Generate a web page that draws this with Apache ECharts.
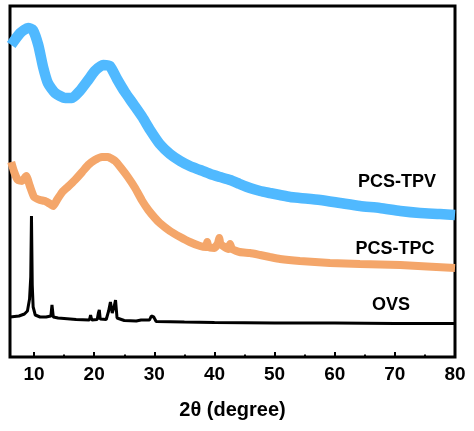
<!DOCTYPE html>
<html>
<head>
<meta charset="utf-8">
<script src="https://cdn.jsdelivr.net/npm/echarts@6/dist/echarts.min.js"></script>
<style>html,body{margin:0;padding:0;background:#fff}#c{width:474px;height:431px}</style>
</head>
<body>
<div id="c"></div>
<script>
// 2θ positions and relative intensities (arbitrary units)
const tpvX = [6.2, 7.7, 9.0, 9.8, 10.7, 11.5, 12.3, 13.5, 15.2, 16.3, 17.6, 19.0, 20.1, 21.5, 22.6, 23.8, 25.1, 26.5, 28.0, 29.3, 30.9, 32.6, 34.3, 35.9, 37.6, 39.3, 40.9, 42.6, 44.2, 45.9, 47.6, 49.2, 50.9, 52.6, 54.2, 57.6, 60.9, 64.2, 67.5, 70.9, 74.2, 77.5, 80];
const tpvY = [312, 324, 329, 327, 312, 290, 274, 264, 259, 259, 266, 277, 286, 292, 291, 278, 265, 253, 240, 227, 213, 203, 196, 191, 187, 183, 180, 177, 173, 169, 166, 164, 162, 160, 159, 157, 154, 151, 149, 146, 144, 143, 142];

const tpcX = [6.2, 6.7, 7.3, 8.0, 8.7, 9.3, 10.0, 11.0, 11.8, 12.7, 13.2, 13.8, 14.7, 15.6, 16.8, 18.0, 19.0, 20.1, 21.3, 22.3, 23.5, 24.6, 25.6, 26.8, 28.0, 29.0, 30.1, 30.9, 32.6, 34.3, 35.9, 37.6, 38.6, 38.8, 39.0, 40.0, 40.6, 40.8, 41.0, 42.3, 42.6, 42.9, 44.2, 45.9, 47.6, 49.2, 50.9, 54.2, 59.2, 64.2, 70.9, 80];
const tpcY = [195, 185, 177, 176, 181, 171, 160, 157, 156, 153, 151, 157, 165, 170, 177, 185, 192, 197, 200, 200, 196, 188, 180, 169, 156, 147, 139, 134, 126, 120, 115, 111, 110, 115, 110, 109, 114, 119, 113, 108, 113, 108, 105, 104, 102, 100, 98, 96, 94, 93, 92, 89];

const ovsX = [6.0, 7.5, 8.4, 8.9, 9.25, 9.45, 9.57, 9.7, 9.85, 10.2, 11.0, 12.0, 12.8, 12.98, 13.2, 14.0, 15.0, 17.0, 19.2, 19.4, 19.6, 20.5, 20.7, 20.85, 21.0, 22.0, 22.4, 22.7, 23.0, 23.3, 23.55, 23.8, 25.0, 27.0, 27.8, 27.95, 28.1, 29.2, 29.5, 29.9, 30.3, 35.0, 40.0, 50.0, 60.0, 70.0, 80.0];
const ovsY = [40, 41, 43, 46, 58, 80, 141, 72, 50, 42, 40, 40, 41, 52, 40, 39, 38.5, 37.5, 37, 42, 37, 37.5, 44, 47, 38, 37.5, 46, 55, 44, 50, 57, 39, 36.5, 36, 37, 39, 36, 37, 41, 40, 35.5, 35, 34.5, 34, 34, 33.5, 33.5];

const xTickLabels = [10, 20, 30, 40, 50, 60, 70, 80];
const xMinorTicks = [15, 25, 35, 45, 55, 65, 75];

const pairs = (xs, ys) => xs.map((x, i) => [x, ys[i]]);
const FONT = '"Liberation Sans", Arial, sans-serif';

const chart = echarts.init(document.getElementById('c'), null, {renderer: 'canvas'});
chart.setOption({
  animation: false,
  backgroundColor: '#fff',
  grid: {left: 10, right: 19, top: 6, bottom: 74, show: true, borderWidth: 3, borderColor: '#000', backgroundColor: 'transparent'},
  xAxis: [{
    type: 'value', min: 6, max: 80,
    name: '2θ (degree)', nameLocation: 'middle', nameGap: 43,
    nameTextStyle: {fontFamily: FONT, fontWeight: 'bold', fontSize: 20, color: '#000'},
    axisLine: {show: false},
    splitLine: {show: false},
    axisTick: {show: true, inside: true, length: 5, lineStyle: {color: '#000', width: 2}, customValues: xTickLabels},
    axisLabel: {show: true, customValues: xTickLabels, margin: 8, fontFamily: FONT, fontWeight: 'bold', fontSize: 19, color: '#000'}
  }, {
    type: 'value', min: 6, max: 80, position: 'bottom',
    axisLine: {show: false}, splitLine: {show: false},
    axisTick: {show: true, inside: true, length: 2.5, lineStyle: {color: '#000', width: 2}, customValues: xMinorTicks},
    axisLabel: {show: false}
  }],
  yAxis: {type: 'value', min: 0, max: 351, show: false, splitLine: {show: false}},
  series: [
    {type: 'line', name: 'PCS-TPV', data: pairs(tpvX, tpvY), showSymbol: false, smooth: 0.2, clip: true,
     lineStyle: {color: '#50B9FF', width: 10.5}, itemStyle: {color: '#50B9FF'}},
    {type: 'line', name: 'PCS-TPC', data: pairs(tpcX, tpcY), showSymbol: false, smooth: 0.15, clip: true,
     lineStyle: {color: '#F4A66A', width: 8}, itemStyle: {color: '#F4A66A'}},
    {type: 'line', name: 'OVS', data: pairs(ovsX, ovsY), showSymbol: false, smooth: false, clip: true,
     lineStyle: {color: '#000', width: 3}, itemStyle: {color: '#000'}}
  ],
  graphic: [
    {type: 'text', x: 397, y: 182, style: {text: 'PCS-TPV', font: 'bold 18px ' + FONT, fill: '#000', align: 'center', verticalAlign: 'middle'}},
    {type: 'text', x: 395, y: 249, style: {text: 'PCS-TPC', font: 'bold 18px ' + FONT, fill: '#000', align: 'center', verticalAlign: 'middle'}},
    {type: 'text', x: 391, y: 305, style: {text: 'OVS', font: 'bold 18px ' + FONT, fill: '#000', align: 'center', verticalAlign: 'middle'}}
  ]
});
</script>
</body>
</html>
